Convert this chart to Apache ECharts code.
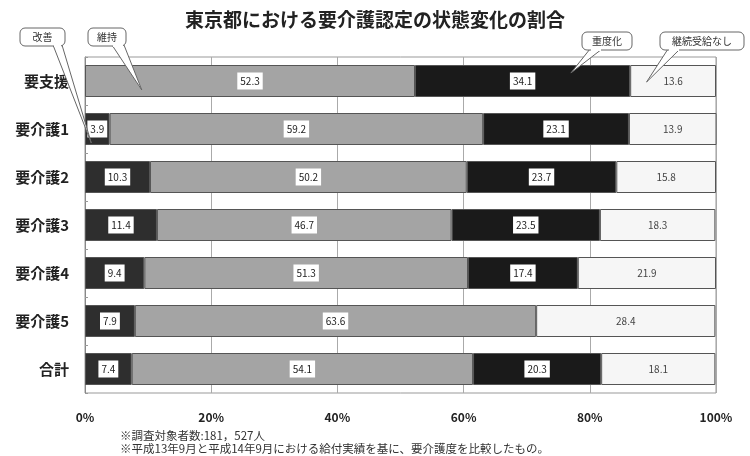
<!DOCTYPE html>
<html><head><meta charset="utf-8">
<script src="https://cdn.jsdelivr.net/npm/echarts@6/dist/echarts.min.js"></script>
<style>html,body{margin:0;padding:0;background:#fff}#c{width:750px;height:456px}</style>
</head><body><div id="c"></div>
<script>
const categories = ['要支援','要介護1','要介護2','要介護3','要介護4','要介護5','合計'];
const seriesNames = ['改善','維持','重度化','継続受給なし'];
const improve  = [null, 3.9, 10.3, 11.4, 9.4, 7.9, 7.4];
const maintain = [52.3, 59.2, 50.2, 46.7, 51.3, 63.6, 54.1];
const worsen   = [34.1, 23.1, 23.7, 23.5, 17.4, null, 20.3];
const noCont   = [13.6, 13.9, 15.8, 18.3, 21.9, 28.4, 18.1];
const xTicks = [0, 20, 40, 60, 80, 100];
const titleText = '東京都における要介護認定の状態変化の割合';
const notes = ['※調査対象者数:181，527人', '※平成13年9月と平成14年9月における給付実績を基に、要介護度を比較したもの。'];

const FONT = '"Noto Sans CJK JP", "Noto Sans", sans-serif';
const chart = echarts.init(document.getElementById('c'), null, {renderer: 'canvas'});
const colors = ['#2e2e2e', '#a4a4a4', '#1a1a1a', '#f6f6f6'];
const dataArr = [improve, maintain, worsen, noCont];

const series = dataArr.map((d, i) => ({
  name: seriesNames[i], type: 'bar', stack: 'all', barWidth: 32,
  data: d,
  itemStyle: {color: colors[i], borderColor: '#555', borderWidth: 1},
  label: {
    show: true, position: 'inside', fontFamily: FONT, fontSize: 10,
    color: i === 3 ? '#444' : '#222',
    backgroundColor: i === 3 ? 'transparent' : '#fff',
    padding: [4, 3, 3, 3],
    formatter: p => p.value == null ? '' : p.value.toFixed(1)
  },
  emphasis: {disabled: true}
}));

const noteGraphics = [
  {type: 'text', left: 120, top: 430, style: {text: notes[0], font: '11.5px ' + FONT, fill: '#333'}},
  {type: 'text', left: 120, top: 443, style: {text: notes[1], font: '11.5px ' + FONT, fill: '#333'}}
];

chart.setOption({
  animation: false,
  textStyle: {fontFamily: FONT},
  title: {text: titleText, left: 'center', top: 5,
    textStyle: {fontFamily: FONT, fontSize: 19, fontWeight: 'bold', color: '#222'}},
  grid: {left: 85, right: 34, top: 57, bottom: 63, show: true, borderColor: '#999', borderWidth: 1, backgroundColor: '#fff'},
  xAxis: {type: 'value', min: xTicks[0], max: xTicks[xTicks.length - 1], interval: 20,
    axisLine: {show: false}, axisTick: {show: false},
    splitLine: {show: true, lineStyle: {color: '#aaa', width: 1}},
    axisLabel: {formatter: '{value}%', fontFamily: FONT, fontSize: 12, fontWeight: 'bold', color: '#222', margin: 18}},
  yAxis: {type: 'category', data: categories, inverse: true,
    axisLine: {show: true, lineStyle: {color: '#888'}},
    axisTick: {show: true, inside: true, length: 3, lineStyle: {color: '#999'}},
    axisLabel: {fontFamily: FONT, fontSize: 15, fontWeight: 'bold', color: '#222', margin: 16}},
  series: series,
  graphic: noteGraphics
});

// Callout bubbles pointing into the bars
function px(xv, cat) { return chart.convertToPixel({xAxisIndex: 0, yAxisIndex: 0}, [xv, cat]); }
const callouts = [
  {text: '改善', box: [20, 28, 45, 18], base: [53, 62], target: px(1, categories[1]), dy: 14},
  {text: '維持', box: [88, 28, 38, 18], base: [112, 124], target: px(9, categories[0]), dy: 9},
  {text: '重度化', box: [582, 32, 50, 18], base: [590, 602], target: px(77, categories[0]), dy: -8},
  {text: '継続受給なし', box: [660, 32, 84, 18], base: [668, 680], target: px(89, categories[0]), dy: 1}
];
const g = [];
callouts.forEach(c => {
  const [bx, by, bw, bh] = c.box;
  const tx = c.target[0], ty = c.target[1] + c.dy;
  g.push({type: 'polygon', z: 100, shape: {points: [[c.base[0], by + bh - 1], [tx, ty], [c.base[1], by + bh - 1]]},
    style: {fill: '#fff', stroke: '#666', lineWidth: 1}});
  g.push({type: 'rect', z: 101, shape: {x: bx, y: by, width: bw, height: bh, r: 5},
    style: {fill: '#fff', stroke: '#666', lineWidth: 1}});
  g.push({type: 'line', z: 102, shape: {x1: c.base[0] + 1, y1: by + bh, x2: c.base[1] - 1, y2: by + bh},
    style: {stroke: '#fff', lineWidth: 2}});
  g.push({type: 'text', z: 103, style: {text: c.text, x: bx + bw / 2, y: by + bh / 2, align: 'center', verticalAlign: 'middle',
    font: '10px ' + FONT, fill: '#333'}});
});
chart.setOption({graphic: noteGraphics.concat(g)}, {replaceMerge: ['graphic']});
</script></body></html>
